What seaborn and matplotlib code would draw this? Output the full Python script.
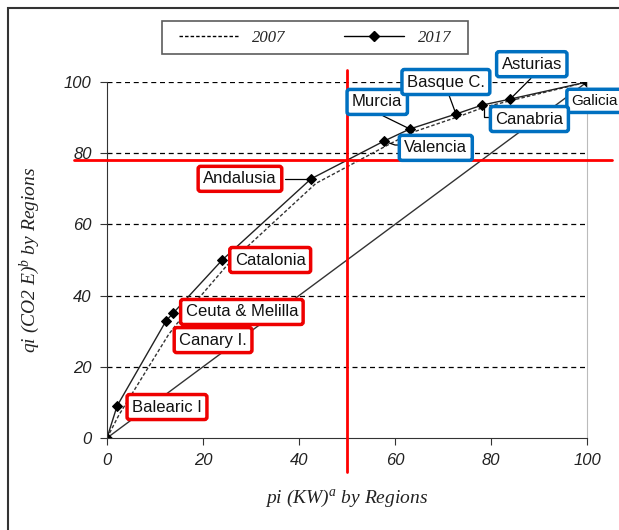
import matplotlib
matplotlib.use("Agg")
import matplotlib.pyplot as plt
import seaborn as sns
import pandas as pd
from matplotlib.patches import Rectangle
from matplotlib.lines import Line2D

regions = ["Origin", "Balearic I", "Canary I.", "Ceuta & Melilla", "Catalonia", "Andalusia",
           "Valencia", "Murcia", "Basque C.", "Canabria", "Asturias", "Galicia"]
pi_2017 = [0, 2.1, 12.3, 13.8, 24.0, 42.5, 57.7, 63.1, 72.7, 78.1, 84.0, 100]
qi_2017 = [0, 9.0, 32.9, 35.1, 50.0, 72.8, 83.4, 86.8, 91.0, 93.5, 95.2, 100]
pi_2007 = [0, 2.5, 12.8, 14.5, 25.0, 43.5, 58.5, 63.5, 73.5, 78.5, 84.5, 100]
qi_2007 = [0, 6.5, 29.0, 32.0, 48.5, 71.5, 82.3, 85.8, 90.4, 92.9, 94.9, 100]
equality_x = [0, 100]
equality_y = [0, 100]
xticks = [0, 20, 40, 60, 80, 100]
yticks = [0, 20, 40, 60, 80, 100]

df17 = pd.DataFrame({"pi": pi_2017, "qi": qi_2017})
df07 = pd.DataFrame({"pi": pi_2007, "qi": qi_2007})
deq = pd.DataFrame({"pi": equality_x, "qi": equality_y})

sns.set_style("white")
plt.rcParams['font.family'] = ['Liberation Sans', 'DejaVu Sans']
plt.rcParams['mathtext.fontset'] = 'custom'
plt.rcParams['mathtext.it'] = 'Liberation Serif:italic'
plt.rcParams['mathtext.rm'] = 'Liberation Serif:italic'

W, H = 619, 530
fig = plt.figure(figsize=(W / 100, H / 100), dpi=100)
ax = fig.add_axes([107 / W, 1 - 438 / H, 480 / W, 356 / H])

# outer frame
fig.patches.append(Rectangle((8 / W, -0.2), 1.2, 1.2 - 8 / H, transform=fig.transFigure,
                             fill=False, edgecolor="#333333", linewidth=1.5))

sns.lineplot(data=deq, x="pi", y="qi", ax=ax, color="#333333", linewidth=1.0,
             sort=False, estimator=None)
sns.lineplot(data=df07, x="pi", y="qi", ax=ax, color="#333333", linewidth=1.0,
             linestyle=(0, (2.5, 1.5)), sort=False, estimator=None)
sns.lineplot(data=df17, x="pi", y="qi", ax=ax, color="#222222", linewidth=1.0,
             marker="D", markersize=5, markeredgecolor="black", markerfacecolor="black",
             sort=False, estimator=None)

ax.set_xlim(0, 100)
ax.set_ylim(0, 100)
ax.set_xticks(xticks)
ax.set_yticks(yticks)
ax.set_xticklabels([str(v) for v in xticks], fontstyle="italic", fontsize=12, color="#222222")
ax.set_yticklabels([str(v) for v in yticks], fontstyle="italic", fontsize=12, color="#222222")
for yv in [20, 40, 60, 80, 100]:
    ax.axhline(yv, color="black", linewidth=0.9, linestyle=(0, (4, 3)), zorder=0)

ax.spines["top"].set_visible(False)
ax.spines["right"].set_color("#bbbbbb")
ax.spines["right"].set_linewidth(0.8)
ax.spines["left"].set_color("#333333")
ax.spines["bottom"].set_color("#333333")
ax.tick_params(axis="both", which="both", direction="out", length=5, width=0.8,
               color="#333333", pad=6, left=True, bottom=True)

ax.set_xlabel("pi (KW)$^a$ by Regions", family="Liberation Serif", style="italic",
              fontsize=14, color="#222222", labelpad=14)
ax.set_ylabel("qi (CO2 E)$^b$ by Regions", family="Liberation Serif", style="italic",
              fontsize=14, color="#222222", labelpad=16)

# red reference lines extending beyond the axes
ax.add_line(Line2D([50, 50], [-9.5, 103.5], color="red", linewidth=2, clip_on=False, zorder=5))
ax.add_line(Line2D([-6.8, 105.2], [78.0, 78.0], color="red", linewidth=2, clip_on=False, zorder=5))

red = "#ee0000"
blue = "#0070c0"
labels = [
    ("Balearic I", 12.5, 8.7, red, None),
    ("Canary I.", 22.1, 27.5, red, None),
    ("Ceuta & Melilla", 28.1, 35.4, red, None),
    ("Catalonia", 34.0, 50.0, red, None),
    ("Andalusia", 27.7, 72.8, red, [(37.0, 72.8), (42.5, 72.8)]),
    ("Murcia", 56.3, 94.4, blue, [(57.5, 90.5), (63.1, 86.8)]),
    ("Basque C.", 70.6, 100.0, blue, [(71.2, 96.5), (72.7, 91.0)]),
    ("Asturias", 88.5, 105.0, blue, [(88.3, 101.0), (84.0, 95.2)]),
    ("Galicia", 101.6, 94.7, blue, None),
    ("Canabria", 88.0, 89.6, blue, [(78.5, 92.8), (78.5, 90.3), (80.5, 90.3)]),
    ("Valencia", 68.5, 81.5, blue, [(58.5, 83.0), (60.0, 82.3), (61.5, 82.3)]),
]
for text, x, y, col, conn in labels:
    if conn is not None:
        xs = [p[0] for p in conn]
        ys = [p[1] for p in conn]
        ax.add_line(Line2D(xs, ys, color="black", linewidth=0.9, clip_on=False, zorder=4))
    fs = 11 if text == "Galicia" else 12
    ax.text(x, y, text, ha="center", va="center", fontsize=fs, color="#111111",
            zorder=6, clip_on=False,
            bbox=dict(boxstyle="round,pad=0.3,rounding_size=0.15", facecolor="white",
                      edgecolor=col, linewidth=2.5))

# legend
h07 = Line2D([], [], color="black", linewidth=1.0, linestyle=(0, (2.5, 1.5)))
h17 = Line2D([], [], color="black", linewidth=1.0, marker="D", markersize=5)
leg = fig.legend([h07, h17], ["2007", "2017"], loc="center",
                 bbox_to_anchor=(315 / W, 1 - 37.5 / H), ncol=2, frameon=True,
                 fancybox=False, edgecolor="#333333", handlelength=3.6, columnspacing=3.5,
                 borderpad=0.5, prop={"family": "Liberation Serif", "style": "italic", "size": 12})
leg.get_frame().set_linewidth(1.2)
leg.get_frame().set_boxstyle("square", pad=0)
leg._legend_box.set_width(290)

fig.savefig("out.png", dpi=100)
